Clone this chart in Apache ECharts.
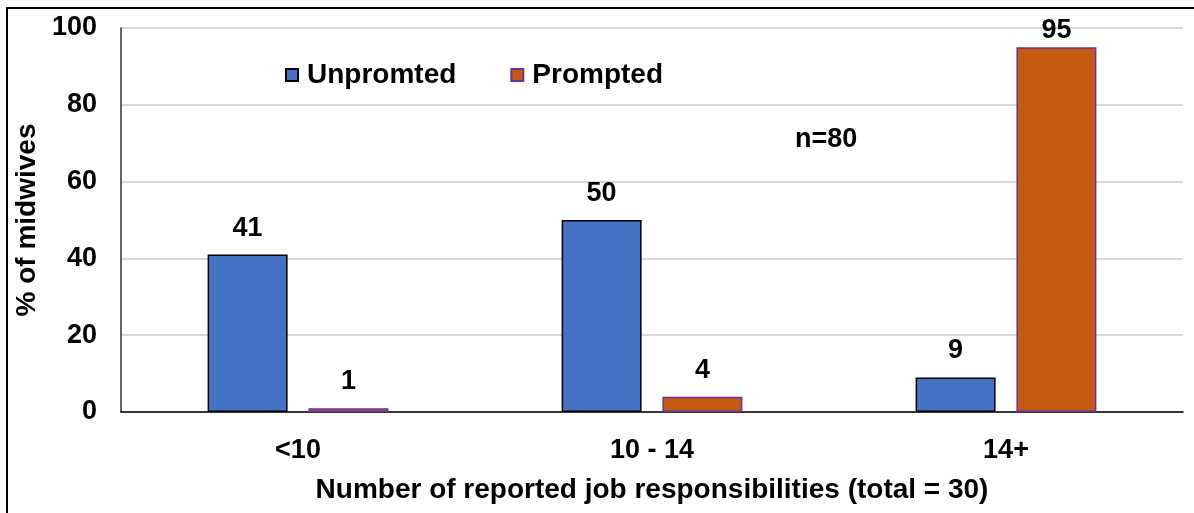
<!DOCTYPE html>
<html>
<head>
<meta charset="utf-8">
<script src="https://cdn.jsdelivr.net/npm/echarts@6/dist/echarts.min.js"></script>
<style>
  html, body { margin: 0; padding: 0; background: #fff; }
  #chart { width: 1194px; height: 513px; }
</style>
</head>
<body>
<div id="chart"></div>
<script>
// data
var categories = ['<10', '10 - 14', '14+'];
var unprompted = [41, 50, 9];
var prompted = [1, 4, 95];
var yTicks = [0, 20, 40, 60, 80, 100];

var fontFamily = 'Liberation Sans, Arial, sans-serif';
var labelStyle = {
  show: true,
  position: 'top',
  distance: 13,
  color: '#000',
  fontWeight: 'bold',
  fontSize: 27,
  fontFamily: fontFamily
};

// labels of very tall bars get pushed back inside the plot, like excel does
function withLabels(values) {
  return values.map(function (v) {
    return v > 90 ? { value: v, label: { distance: 3 } } : v;
  });
}

var option = {
  animation: false,
  backgroundColor: '#fff',
  grid: {
    left: 121,
    right: 11,
    top: 28,
    bottom: 101
  },
  legend: {
    left: 280,
    top: 56,
    icon: 'rect',
    itemWidth: 12,
    itemHeight: 12,
    itemGap: 54,
    textStyle: {
      color: '#000',
      fontWeight: 'bold',
      fontSize: 28,
      fontFamily: fontFamily,
      padding: [0, 0, 0, 4]
    },
    data: ['Unpromted', 'Prompted']
  },
  xAxis: {
    type: 'category',
    data: categories,
    name: 'Number of reported job responsibilities (total = 30)',
    nameLocation: 'middle',
    nameGap: 64,
    nameTextStyle: {
      color: '#000',
      fontWeight: 'bold',
      fontSize: 28,
      fontFamily: fontFamily
    },
    axisLine: { lineStyle: { color: '#000', width: 1.5 } },
    axisTick: { show: false },
    axisLabel: {
      color: '#000',
      fontWeight: 'bold',
      fontSize: 27,
      fontFamily: fontFamily,
      margin: 25
    }
  },
  yAxis: {
    type: 'value',
    min: yTicks[0],
    max: yTicks[yTicks.length - 1],
    interval: yTicks[1] - yTicks[0],
    name: '% of midwives',
    nameLocation: 'middle',
    nameGap: 80,
    nameTextStyle: {
      color: '#000',
      fontWeight: 'bold',
      fontSize: 28,
      fontFamily: fontFamily
    },
    axisLine: { show: true, lineStyle: { color: '#333', width: 1.5 } },
    axisTick: { show: false },
    splitLine: { lineStyle: { color: '#d9d9d9', width: 2 } },
    axisLabel: {
      color: '#000',
      fontWeight: 'bold',
      fontSize: 27,
      fontFamily: fontFamily,
      margin: 24
    }
  },
  series: [
    {
      name: 'Unpromted',
      type: 'bar',
      data: withLabels(unprompted),
      barWidth: 80,
      barGap: '26%',
      itemStyle: { color: '#4472C4', borderColor: '#000', borderWidth: 1.5 },
      label: labelStyle
    },
    {
      name: 'Prompted',
      type: 'bar',
      data: withLabels(prompted),
      barWidth: 80,
      itemStyle: { color: '#C55A11', borderColor: '#7030A0', borderWidth: 1.5 },
      label: labelStyle
    }
  ],
  graphic: [
    {
      // outer frame, right and bottom edges fall outside the picture
      type: 'rect',
      shape: { x: 7, y: 8, width: 1200, height: 520 },
      style: { fill: 'none', stroke: '#000', lineWidth: 2 },
      silent: true
    },
    {
      type: 'text',
      left: 795,
      top: 126,
      style: {
        text: 'n=80',
        fill: '#000',
        font: 'bold 27px ' + fontFamily
      }
    }
  ]
};

var myChart = echarts.init(document.getElementById('chart'));
myChart.setOption(option);
</script>
</body>
</html>
